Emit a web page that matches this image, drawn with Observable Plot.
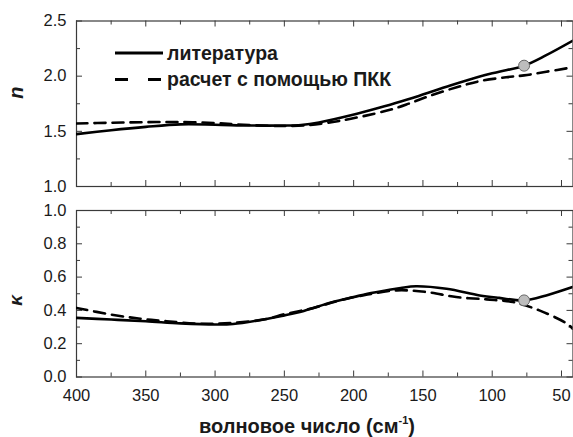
<!DOCTYPE html>
<html>
<head>
<meta charset="utf-8">
<script src="https://cdn.jsdelivr.net/npm/d3@7"></script>
<script src="https://cdn.jsdelivr.net/npm/@observablehq/plot@0.6"></script>
<style>
  html, body { margin: 0; padding: 0; background: #fff; }
  #chart { position: relative; width: 573px; height: 437px; overflow: hidden;
           font-family: "Liberation Sans", Arial, sans-serif; }
  #chart > svg, #chart > div { position: absolute; left: 0; }
  #xtitle { font-weight: bold; font-size: 20px; color: #1a1a1a; white-space: nowrap;
            transform: translateX(-50%); line-height: 22px; }
  #xtitle sup { font-size: 11px; vertical-align: 9px; line-height: 0; }
</style>
</head>
<body>
<div id="chart"></div>
<script>
// ---- tick values ----
const xMajor = [400, 350, 300, 250, 200, 150, 100, 50];
const xMinor = [375, 325, 275, 225, 175, 125, 75];
const nMajor = [1.0, 1.5, 2.0, 2.5];
const nMinor = [1.25, 1.75, 2.25];
const kMajor = [0.0, 0.2, 0.4, 0.6, 0.8, 1.0];
const kMinor = [0.1, 0.3, 0.5, 0.7, 0.9];

// ---- legend / labels ----
const seriesNames = ["литература", "расчет с помощью ПКК"];
const xTitle = "волновое число (см<sup>-1</sup>)";

// ---- n: literature ----
const litN_wn = [400, 375, 350, 325, 300, 275, 250, 238, 225, 202, 181, 166, 157, 133, 109, 95, 77, 61, 42];
const litN    = [1.475, 1.51, 1.54, 1.563, 1.56, 1.553, 1.553, 1.558, 1.58, 1.645, 1.715, 1.77, 1.805, 1.905, 1.998, 2.04, 2.095, 2.19, 2.32];
// ---- n: calculation ----
const calcN_wn = [400, 375, 350, 325, 300, 287, 262, 250, 233, 215, 202, 185, 171, 160, 145, 125, 109, 90, 77, 61, 42];
const calcN    = [1.571, 1.578, 1.583, 1.585, 1.575, 1.565, 1.55, 1.548, 1.556, 1.585, 1.614, 1.66, 1.705, 1.752, 1.822, 1.902, 1.955, 1.99, 2.007, 2.04, 2.08];
// ---- kappa: literature ----
const litK_wn = [400, 375, 350, 325, 300, 287, 262, 250, 238, 215, 200, 190, 175, 166, 155, 133, 109, 95, 77, 61, 42];
const litK    = [0.355, 0.345, 0.335, 0.322, 0.315, 0.318, 0.35, 0.37, 0.392, 0.45, 0.48, 0.50, 0.523, 0.535, 0.545, 0.53, 0.49, 0.475, 0.46, 0.49, 0.54];
// ---- kappa: calculation ----
const calcK_wn = [400, 375, 354, 335, 310, 287, 262, 251, 229, 210, 190, 169, 147, 126, 104, 85, 66, 46, 42];
const calcK    = [0.415, 0.375, 0.35, 0.335, 0.32, 0.325, 0.35, 0.375, 0.415, 0.46, 0.495, 0.52, 0.51, 0.48, 0.466, 0.45, 0.40, 0.32, 0.29];
// ---- highlighted points ----
const markWn = [77];
const markN = [2.095];
const markK = [0.46];

const zip = (xs, ys) => xs.map((x, i) => ({x, y: ys[i]}));

const W = 573, ML = 76, MR = 0.5;
const xDomain = [400, 41.7];
const axisColor = "#3a3a3a";
const baseStyle = {fontFamily: '"Liberation Sans", Arial, sans-serif', fontSize: "16.5px",
  color: "#1a1a1a", background: "transparent", overflow: "visible"};

function frameTicks(innerW, innerH, yMaj, yMin) {
  const o = {stroke: axisColor, strokeWidth: 1};
  return [
    Plot.ruleX(xMajor, {x: d => d, insetTop: innerH - 6, ...o}),
    Plot.ruleX(xMajor, {x: d => d, insetBottom: innerH - 6, ...o}),
    Plot.ruleX(xMinor, {x: d => d, insetTop: innerH - 4, ...o}),
    Plot.ruleX(xMinor, {x: d => d, insetBottom: innerH - 4, ...o}),
    Plot.ruleY(yMaj, {y: d => d, insetRight: innerW - 6, ...o}),
    Plot.ruleY(yMaj, {y: d => d, insetLeft: innerW - 6, ...o}),
    Plot.ruleY(yMin, {y: d => d, insetRight: innerW - 4, ...o}),
    Plot.ruleY(yMin, {y: d => d, insetLeft: innerW - 4, ...o})
  ];
}

const lineSolid = {x: "x", y: "y", curve: "catmull-rom", stroke: "#000", strokeWidth: 2.6, clip: true};
const lineDash = {...lineSolid, strokeDasharray: "11,7"};
const dotOpts = {x: "x", y: "y", r: 5.5, fill: "#bdbdbd", stroke: "#666", strokeWidth: 1};

// ---- top panel (n) ----
const topH = 198, topMT = 20.5, topMB = 12;
const topPlot = Plot.plot({
  width: W, height: topH, marginLeft: ML, marginRight: MR, marginTop: topMT, marginBottom: topMB,
  style: baseStyle,
  x: {domain: xDomain, axis: null},
  y: {domain: [1.0, 2.5]},
  marks: [
    Plot.axisY(nMajor, {tickSize: 0, tickPadding: 10, tickFormat: d3.format(".1f"), label: null}),
    ...frameTicks(W - ML - MR, topH - topMT - topMB, nMajor, nMinor),
    Plot.frame({stroke: axisColor, strokeWidth: 1.2}),
    Plot.line(zip(litN_wn, litN), lineSolid),
    Plot.line(zip(calcN_wn, calcN), lineDash),
    Plot.dot(zip(markWn, markN), dotOpts),
    Plot.text(["n"], {frameAnchor: "left", dx: -60, dy: -5, rotate: -90,
      fontSize: 20, fontWeight: "bold", fontStyle: "italic", fill: "#1a1a1a"})
  ]
});

// ---- bottom panel (kappa) ----
const botTop = 198, botH = 208.5, botMT = 12, botMB = 30;
const botPlot = Plot.plot({
  width: W, height: botH, marginLeft: ML, marginRight: MR, marginTop: botMT, marginBottom: botMB,
  style: baseStyle,
  x: {domain: xDomain},
  y: {domain: [0, 1.0]},
  marks: [
    Plot.axisY(kMajor, {tickSize: 0, tickPadding: 10, tickFormat: d3.format(".1f"), label: null}),
    Plot.axisX(xMajor, {tickSize: 0, tickPadding: 12, tickFormat: d => String(d), label: null}),
    ...frameTicks(W - ML - MR, botH - botMT - botMB, kMajor, kMinor),
    Plot.frame({stroke: axisColor, strokeWidth: 1.2}),
    Plot.line(zip(litK_wn, litK), lineSolid),
    Plot.line(zip(calcK_wn, calcK), lineDash),
    Plot.dot(zip(markWn, markK), dotOpts),
    Plot.text(["κ"], {frameAnchor: "left", dx: -61, dy: 12, rotate: -90,
      fontSize: 19, fontWeight: "bold", fontStyle: "italic", fill: "#1a1a1a"})
  ]
});

const chart = document.getElementById("chart");
topPlot.style.top = "0px";
botPlot.style.top = botTop + "px";
chart.appendChild(topPlot);
chart.appendChild(botPlot);

// ---- legend ----
const leg = d3.select(chart).append("svg")
  .attr("width", W).attr("height", 100)
  .style("position", "absolute").style("top", "0px").style("left", "0px");
const legRows = [
  {name: seriesNames[0], y: 53, dash: null},
  {name: seriesNames[1], y: 79.5, dash: "13,20"}
];
legRows.forEach(r => {
  leg.append("line").attr("x1", 115).attr("x2", 163).attr("y1", r.y).attr("y2", r.y)
    .attr("stroke", "#000").attr("stroke-width", 2.8)
    .attr("stroke-dasharray", r.dash);
  leg.append("text").attr("x", 167).attr("y", r.y).attr("dy", "0.35em")
    .attr("font-family", '"Liberation Sans", Arial, sans-serif')
    .attr("font-weight", "bold").attr("font-size", 19.5).attr("fill", "#1a1a1a")
    .text(r.name);
});

// ---- x title ----
const xt = document.createElement("div");
xt.id = "xtitle";
xt.innerHTML = xTitle;
xt.style.left = "307px";
xt.style.top = "415px";
chart.appendChild(xt);
</script>
</body>
</html>
